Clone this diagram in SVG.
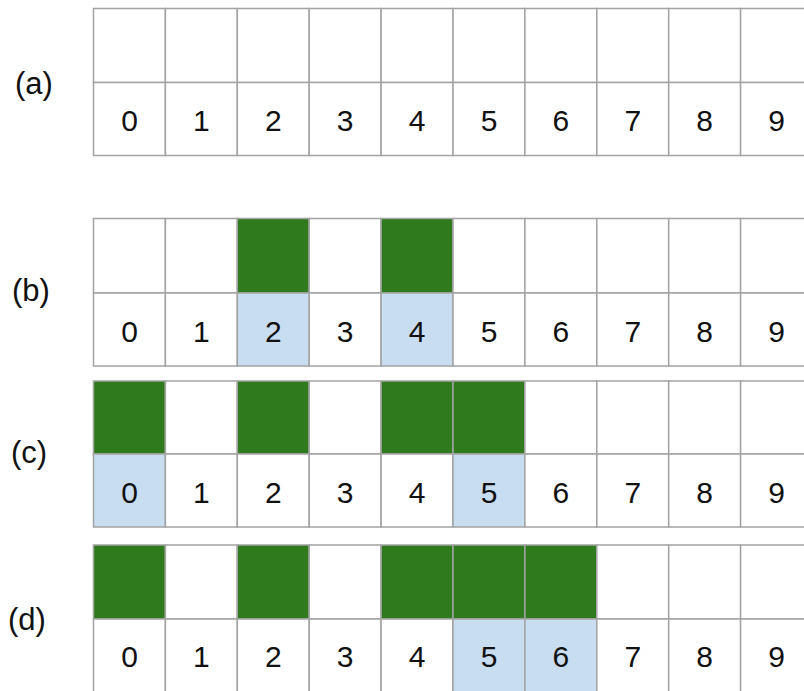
<svg xmlns="http://www.w3.org/2000/svg" width="804" height="691" viewBox="0 0 804 691">
<style>
.c{fill:#ffffff;stroke:#a3a3a3;stroke-width:1.5}
.g{fill:#2f7a1c;stroke:#a3a3a3;stroke-width:1.5}
.b{fill:#c8ddf0;stroke:#a3a3a3;stroke-width:1.5}
.d{font-family:"Liberation Sans",Arial,sans-serif;font-size:30px;fill:#111;text-anchor:middle}
.l{font-family:"Liberation Sans",Arial,sans-serif;font-size:31px;fill:#111}
</style>
<rect width="804" height="691" fill="#ffffff"/>
<g id="panel-a">
<text class="l" x="15" y="94">(a)</text>
<rect class="c" x="93.5" y="8.5" width="71.9" height="74"/><rect class="c" x="165.4" y="8.5" width="71.9" height="74"/><rect class="c" x="237.3" y="8.5" width="71.9" height="74"/><rect class="c" x="309.2" y="8.5" width="71.9" height="74"/><rect class="c" x="381.1" y="8.5" width="71.9" height="74"/><rect class="c" x="453" y="8.5" width="71.9" height="74"/><rect class="c" x="524.9" y="8.5" width="71.9" height="74"/><rect class="c" x="596.8" y="8.5" width="71.9" height="74"/><rect class="c" x="668.7" y="8.5" width="71.9" height="74"/><rect class="c" x="740.6" y="8.5" width="71.9" height="74"/>
<rect class="c" x="93.5" y="82.5" width="71.9" height="73"/><rect class="c" x="165.4" y="82.5" width="71.9" height="73"/><rect class="c" x="237.3" y="82.5" width="71.9" height="73"/><rect class="c" x="309.2" y="82.5" width="71.9" height="73"/><rect class="c" x="381.1" y="82.5" width="71.9" height="73"/><rect class="c" x="453" y="82.5" width="71.9" height="73"/><rect class="c" x="524.9" y="82.5" width="71.9" height="73"/><rect class="c" x="596.8" y="82.5" width="71.9" height="73"/><rect class="c" x="668.7" y="82.5" width="71.9" height="73"/><rect class="c" x="740.6" y="82.5" width="71.9" height="73"/>
<text class="d" x="129.5" y="131">0</text><text class="d" x="201.4" y="131">1</text><text class="d" x="273.3" y="131">2</text><text class="d" x="345.2" y="131">3</text><text class="d" x="417.1" y="131">4</text><text class="d" x="489" y="131">5</text><text class="d" x="560.9" y="131">6</text><text class="d" x="632.8" y="131">7</text><text class="d" x="704.7" y="131">8</text><text class="d" x="776.6" y="131">9</text>
</g>
<g id="panel-b">
<text class="l" x="12" y="301">(b)</text>
<rect class="c" x="93.5" y="218.5" width="71.9" height="74.5"/><rect class="c" x="165.4" y="218.5" width="71.9" height="74.5"/><rect class="g" x="237.3" y="218.5" width="71.9" height="74.5"/><rect class="c" x="309.2" y="218.5" width="71.9" height="74.5"/><rect class="g" x="381.1" y="218.5" width="71.9" height="74.5"/><rect class="c" x="453" y="218.5" width="71.9" height="74.5"/><rect class="c" x="524.9" y="218.5" width="71.9" height="74.5"/><rect class="c" x="596.8" y="218.5" width="71.9" height="74.5"/><rect class="c" x="668.7" y="218.5" width="71.9" height="74.5"/><rect class="c" x="740.6" y="218.5" width="71.9" height="74.5"/>
<rect class="c" x="93.5" y="293" width="71.9" height="73"/><rect class="c" x="165.4" y="293" width="71.9" height="73"/><rect class="b" x="237.3" y="293" width="71.9" height="73"/><rect class="c" x="309.2" y="293" width="71.9" height="73"/><rect class="b" x="381.1" y="293" width="71.9" height="73"/><rect class="c" x="453" y="293" width="71.9" height="73"/><rect class="c" x="524.9" y="293" width="71.9" height="73"/><rect class="c" x="596.8" y="293" width="71.9" height="73"/><rect class="c" x="668.7" y="293" width="71.9" height="73"/><rect class="c" x="740.6" y="293" width="71.9" height="73"/>
<text class="d" x="129.5" y="342">0</text><text class="d" x="201.4" y="342">1</text><text class="d" x="273.3" y="342">2</text><text class="d" x="345.2" y="342">3</text><text class="d" x="417.1" y="342">4</text><text class="d" x="489" y="342">5</text><text class="d" x="560.9" y="342">6</text><text class="d" x="632.8" y="342">7</text><text class="d" x="704.7" y="342">8</text><text class="d" x="776.6" y="342">9</text>
</g>
<g id="panel-c">
<text class="l" x="11" y="463">(c)</text>
<rect class="g" x="93.5" y="381" width="71.9" height="73"/><rect class="c" x="165.4" y="381" width="71.9" height="73"/><rect class="g" x="237.3" y="381" width="71.9" height="73"/><rect class="c" x="309.2" y="381" width="71.9" height="73"/><rect class="g" x="381.1" y="381" width="71.9" height="73"/><rect class="g" x="453" y="381" width="71.9" height="73"/><rect class="c" x="524.9" y="381" width="71.9" height="73"/><rect class="c" x="596.8" y="381" width="71.9" height="73"/><rect class="c" x="668.7" y="381" width="71.9" height="73"/><rect class="c" x="740.6" y="381" width="71.9" height="73"/>
<rect class="b" x="93.5" y="454" width="71.9" height="73"/><rect class="c" x="165.4" y="454" width="71.9" height="73"/><rect class="c" x="237.3" y="454" width="71.9" height="73"/><rect class="c" x="309.2" y="454" width="71.9" height="73"/><rect class="c" x="381.1" y="454" width="71.9" height="73"/><rect class="b" x="453" y="454" width="71.9" height="73"/><rect class="c" x="524.9" y="454" width="71.9" height="73"/><rect class="c" x="596.8" y="454" width="71.9" height="73"/><rect class="c" x="668.7" y="454" width="71.9" height="73"/><rect class="c" x="740.6" y="454" width="71.9" height="73"/>
<text class="d" x="129.5" y="503">0</text><text class="d" x="201.4" y="503">1</text><text class="d" x="273.3" y="503">2</text><text class="d" x="345.2" y="503">3</text><text class="d" x="417.1" y="503">4</text><text class="d" x="489" y="503">5</text><text class="d" x="560.9" y="503">6</text><text class="d" x="632.8" y="503">7</text><text class="d" x="704.7" y="503">8</text><text class="d" x="776.6" y="503">9</text>
</g>
<g id="panel-d">
<text class="l" x="8" y="630">(d)</text>
<rect class="g" x="93.5" y="545" width="71.9" height="74"/><rect class="c" x="165.4" y="545" width="71.9" height="74"/><rect class="g" x="237.3" y="545" width="71.9" height="74"/><rect class="c" x="309.2" y="545" width="71.9" height="74"/><rect class="g" x="381.1" y="545" width="71.9" height="74"/><rect class="g" x="453" y="545" width="71.9" height="74"/><rect class="g" x="524.9" y="545" width="71.9" height="74"/><rect class="c" x="596.8" y="545" width="71.9" height="74"/><rect class="c" x="668.7" y="545" width="71.9" height="74"/><rect class="c" x="740.6" y="545" width="71.9" height="74"/>
<rect class="c" x="93.5" y="619" width="71.9" height="74"/><rect class="c" x="165.4" y="619" width="71.9" height="74"/><rect class="c" x="237.3" y="619" width="71.9" height="74"/><rect class="c" x="309.2" y="619" width="71.9" height="74"/><rect class="c" x="381.1" y="619" width="71.9" height="74"/><rect class="b" x="453" y="619" width="71.9" height="74"/><rect class="b" x="524.9" y="619" width="71.9" height="74"/><rect class="c" x="596.8" y="619" width="71.9" height="74"/><rect class="c" x="668.7" y="619" width="71.9" height="74"/><rect class="c" x="740.6" y="619" width="71.9" height="74"/>
<text class="d" x="129.5" y="667">0</text><text class="d" x="201.4" y="667">1</text><text class="d" x="273.3" y="667">2</text><text class="d" x="345.2" y="667">3</text><text class="d" x="417.1" y="667">4</text><text class="d" x="489" y="667">5</text><text class="d" x="560.9" y="667">6</text><text class="d" x="632.8" y="667">7</text><text class="d" x="704.7" y="667">8</text><text class="d" x="776.6" y="667">9</text>
</g>
</svg>
